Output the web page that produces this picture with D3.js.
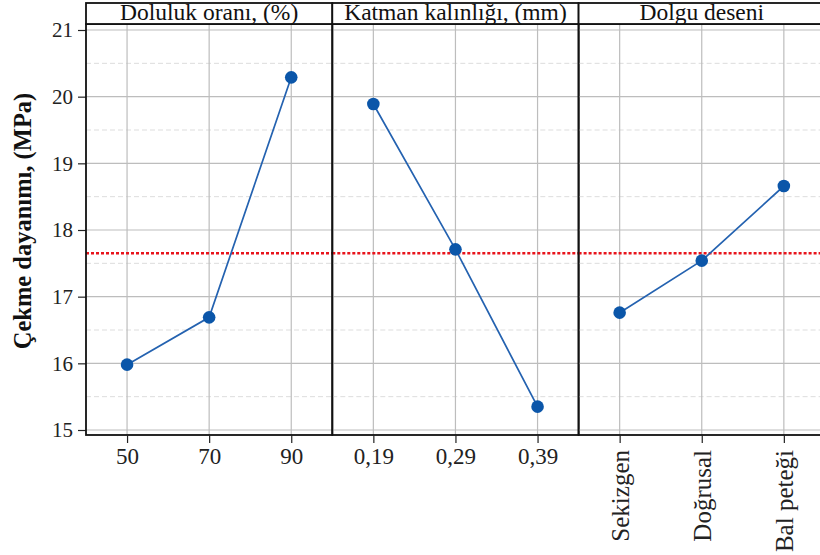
<!DOCTYPE html>
<html><head><meta charset="utf-8">
<script src="https://cdn.jsdelivr.net/npm/d3@7"></script>
<style>body{margin:0;background:#fff}svg{display:block}</style>
</head><body>
<svg id="c" width="820" height="555"></svg>
<script>
const panelTitles = ["Doluluk oranı, (%)", "Katman kalınlığı, (mm)", "Dolgu deseni"];
const levels1 = ["50", "70", "90"];
const values1 = [15.98, 16.69, 20.29];
const levels2 = ["0,19", "0,29", "0,39"];
const values2 = [19.89, 17.71, 15.35];
const levels3 = ["Sekizgen", "Doğrusal", "Bal peteği"];
const values3 = [16.76, 17.54, 18.66];
const meanValue = 17.65;
const yTicks = [15, 16, 17, 18, 19, 20, 21];
const yMinor = [15.5, 16.5, 17.5, 18.5, 19.5, 20.5];
const yLabel = "Çekme dayanımı, (MPa)";

(function () {
const panels = [
  {title: panelTitles[0], levels: levels1, values: values1, rot: false},
  {title: panelTitles[1], levels: levels2, values: values2, rot: false},
  {title: panelTitles[2], levels: levels3, values: values3, rot: true}
];

const svg = d3.select("#c");
const font = "'Liberation Serif','Times New Roman',serif";
const left = 86, pw = 246.3, headTop = 3, plotTop = 24, plotBottom = 435;
const y = d3.scaleLinear().domain([15, 21]).range([430, 30]);

const ya = svg.append("g").attr("transform", `translate(${left},0)`)
  .call(d3.axisLeft(y).tickValues(yTicks).tickSize(8).tickPadding(5).tickFormat(d3.format("d")));
ya.select(".domain").remove();
ya.selectAll("line").attr("stroke", "#222").attr("stroke-width", 1.2);
ya.selectAll("text").attr("font-family", font).attr("font-size", 21).attr("fill", "#222");

svg.append("text").attr("transform", `translate(31,221) rotate(-90)`)
  .attr("text-anchor", "middle").attr("font-family", font).attr("font-weight", "bold")
  .attr("font-size", 24.5).attr("fill", "#111").text(yLabel);

panels.forEach((p, i) => {
  const x0 = left + i * pw, x1 = x0 + pw;
  const x = d3.scalePoint().domain(p.levels).range([x0, x1]).padding(0.5);
  const g = svg.append("g");
  g.selectAll(".mn").data(yMinor).join("line")
    .attr("x1", x0).attr("x2", x1).attr("y1", d => y(d)).attr("y2", d => y(d))
    .attr("stroke", "#ddd").attr("stroke-dasharray", "5,3").attr("stroke-width", 1);
  g.selectAll(".mj").data(yTicks).join("line")
    .attr("x1", x0).attr("x2", x1).attr("y1", d => y(d)).attr("y2", d => y(d))
    .attr("stroke", "#bdbdbd").attr("stroke-width", 1.2);
  g.selectAll(".vg").data(p.levels).join("line")
    .attr("x1", d => x(d)).attr("x2", d => x(d)).attr("y1", plotTop).attr("y2", plotBottom)
    .attr("stroke", "#bdbdbd").attr("stroke-width", 1.2);
  g.append("line").attr("x1", x0).attr("x2", x1).attr("y1", y(meanValue)).attr("y2", y(meanValue))
    .attr("stroke", "#e8141c").attr("stroke-width", 2.5).attr("stroke-dasharray", "3,2");
  const pts = p.levels.map((l, k) => [x(l), y(p.values[k])]);
  g.append("path").attr("d", d3.line()(pts)).attr("fill", "none")
    .attr("stroke", "#2462b0").attr("stroke-width", 1.7);
  g.selectAll(".pt").data(pts).join("circle")
    .attr("cx", d => d[0]).attr("cy", d => d[1]).attr("r", 6.3).attr("fill", "#0b56a9");
  g.append("rect").attr("x", x0).attr("y", plotTop).attr("width", pw).attr("height", plotBottom - plotTop)
    .attr("fill", "none").attr("stroke", "#111").attr("stroke-width", 1.8);
  g.append("rect").attr("x", x0).attr("y", headTop).attr("width", pw).attr("height", plotTop - headTop)
    .attr("fill", "#fff").attr("stroke", "#111").attr("stroke-width", 1.8);
  g.append("text").attr("x", (x0 + x1) / 2).attr("y", 20).attr("text-anchor", "middle")
    .attr("font-family", font).attr("font-size", 23.5).attr("fill", "#111").text(p.title);
  const xa = svg.append("g").attr("transform", `translate(0,${plotBottom})`)
    .call(d3.axisBottom(x).tickSize(8).tickPadding(5));
  xa.select(".domain").remove();
  xa.selectAll("line").attr("stroke", "#222").attr("stroke-width", 1.2);
  const t = xa.selectAll("text").attr("font-family", font).attr("font-size", 23).attr("fill", "#222");
  if (p.rot) {
    t.attr("transform", "rotate(-90)").attr("text-anchor", "end").attr("font-size", 25)
      .attr("x", -15).attr("y", 0).attr("dy", "0.35em");
  }
});
})();
</script>
</body></html>
